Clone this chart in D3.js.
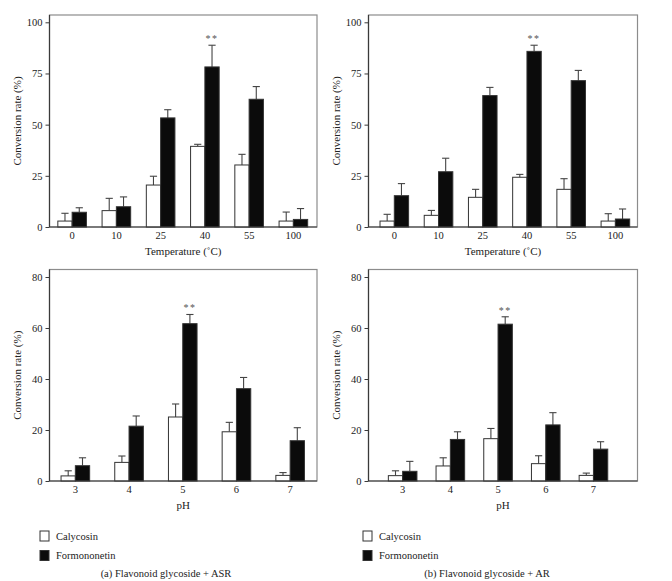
<!DOCTYPE html>
<html><head><meta charset="utf-8">
<script src="https://cdn.jsdelivr.net/npm/d3@7"></script>
<style>
html,body{margin:0;padding:0;background:#fff;}
svg{display:block;font-family:"Liberation Serif","Times New Roman",serif;}
</style></head>
<body>
<svg id="chart" width="672" height="581"></svg>
<script>
// ---------- data ----------
const tempCategories = ["0", "10", "25", "40", "55", "100"];
const phCategories = ["3", "4", "5", "6", "7"];
const seriesNames = ["Calycosin", "Formononetin"];
const tempTicks = [0, 25, 50, 75, 100];
const phTicks = [0, 20, 40, 60, 80];

// (a) Flavonoid glycoside + ASR, temperature
const asrTempCalycosin = [2.9, 8.0, 20.5, 39.4, 30.3, 2.9];
const asrTempCalycosinErr = [3.8, 6.0, 4.3, 1.0, 5.2, 4.4];
const asrTempFormononetin = [7.2, 9.9, 53.3, 78.2, 62.4, 3.7];
const asrTempFormononetinErr = [2.2, 4.8, 4.0, 10.6, 6.2, 5.3];
// (b) Flavonoid glycoside + AR, temperature
const arTempCalycosin = [2.9, 5.7, 14.5, 24.3, 18.4, 2.9];
const arTempCalycosinErr = [3.3, 2.4, 3.9, 1.4, 5.2, 3.6];
const arTempFormononetin = [15.3, 27.0, 64.2, 85.8, 71.5, 3.9];
const arTempFormononetinErr = [5.9, 6.6, 4.0, 3.0, 5.0, 4.9];
// (a) pH
const asrPhCalycosin = [2.0, 7.3, 25.1, 19.3, 2.2];
const asrPhCalycosinErr = [2.0, 2.5, 5.1, 3.7, 1.1];
const asrPhFormononetin = [6.0, 21.5, 61.7, 36.2, 15.8];
const asrPhFormononetinErr = [3.1, 4.0, 3.6, 4.4, 5.1];
// (b) pH
const arPhCalycosin = [2.1, 5.9, 16.6, 6.8, 2.2];
const arPhCalycosinErr = [1.9, 3.2, 4.0, 3.1, 0.9];
const arPhFormononetin = [3.8, 16.3, 61.5, 22.0, 12.5];
const arPhFormononetinErr = [3.9, 3.0, 2.9, 4.8, 2.9];

const tempSignificant = "40";
const phSignificant = "5";
const captions = ["(a)  Flavonoid glycoside + ASR", "(b)  Flavonoid glycoside + AR"];

// ---------- drawing ----------
const svg = d3.select("#chart");
const axisColor = "#3a3a3a";
const frameColor = "#8c8c8c";

function panel(cfg) {
  const g = svg.append("g");
  const x = d3.scaleBand().domain(cfg.categories).range(cfg.xRange).paddingInner(0).paddingOuter(0);
  const y = d3.scaleLinear().domain([0, cfg.yMax]).range([cfg.frame.y1, cfg.yTopPx]);
  const f = cfg.frame;
  g.append("rect").attr("x", f.x0).attr("y", f.y0).attr("width", f.x1 - f.x0).attr("height", f.y1 - f.y0)
    .attr("fill", "none").attr("stroke", frameColor).attr("stroke-width", 1.2);

  const barW = 14.3;
  const rows = cfg.categories.map((c, i) => ({c, i}));
  const series = [
    {vals: cfg.cal, errs: cfg.calErr, fill: "#ffffff", off: -barW},
    {vals: cfg.form, errs: cfg.formErr, fill: "#0b0b0b", off: 0}
  ];
  series.forEach(s => {
    const left = d => x(d.c) + x.bandwidth() / 2 + s.off;
    const mid = d => left(d) + barW / 2;
    g.selectAll(null).data(rows).join("line")
      .attr("x1", mid).attr("x2", mid)
      .attr("y1", d => y(s.vals[d.i])).attr("y2", d => y(s.vals[d.i] + s.errs[d.i]))
      .attr("stroke", "#444").attr("stroke-width", 1.1);
    g.selectAll(null).data(rows).join("line")
      .attr("x1", d => mid(d) - 3.6).attr("x2", d => mid(d) + 3.6)
      .attr("y1", d => y(s.vals[d.i] + s.errs[d.i])).attr("y2", d => y(s.vals[d.i] + s.errs[d.i]))
      .attr("stroke", "#444").attr("stroke-width", 1.1);
    g.selectAll(null).data(rows).join("rect")
      .attr("x", left).attr("width", barW)
      .attr("y", d => y(s.vals[d.i])).attr("height", d => y(0) - y(s.vals[d.i]))
      .attr("fill", s.fill).attr("stroke", "#333").attr("stroke-width", 1);
  });
  const si = cfg.categories.indexOf(cfg.sig);
  g.append("text")
    .attr("x", x(cfg.sig) + x.bandwidth() / 2 + barW / 2)
    .attr("y", y(cfg.form[si] + cfg.formErr[si]) - 3)
    .attr("text-anchor", "middle").attr("font-size", 10).attr("fill", "#555")
    .attr("letter-spacing", 1.5).text("**");

  const ya = d3.axisLeft(y).tickValues(cfg.ticks).tickSize(4).tickSizeOuter(0).tickPadding(3);
  const yg = g.append("g").attr("transform", `translate(${f.x0},0)`).call(ya);
  yg.select(".domain").attr("d", `M0,${f.y0}V${f.y1}`);
  const xa = d3.axisBottom(x).tickSize(0).tickSizeOuter(0).tickPadding(5);
  const xg = g.append("g").attr("transform", `translate(0,${f.y1})`).call(xa);
  xg.select(".domain").attr("d", `M${f.x0},0H${f.x1}`);
  [yg, xg].forEach(a => {
    a.selectAll(".domain").attr("stroke", axisColor).attr("stroke-width", 1.2);
    a.selectAll(".tick line").attr("stroke", axisColor);
    a.selectAll("text").attr("font-family", "Liberation Serif, Times New Roman, serif")
      .attr("font-size", 10.5).attr("fill", "#222");
  });
  g.append("text").attr("x", (f.x0 + f.x1) / 2).attr("y", f.y1 + 28)
    .attr("text-anchor", "middle").attr("font-size", 11).attr("fill", "#222").text(cfg.xTitle);
  g.append("text").attr("transform", `translate(${cfg.yTitleX},${(f.y0 + f.y1) / 2}) rotate(-90)`)
    .attr("text-anchor", "middle").attr("font-size", 11).attr("fill", "#222").text("Conversion rate (%)");
}

const topFrameY = {y0: 15, y1: 227};
const botFrameY = {y0: 269.5, y1: 481};
panel({categories: tempCategories, cal: asrTempCalycosin, calErr: asrTempCalycosinErr,
  form: asrTempFormononetin, formErr: asrTempFormononetinErr, yMax: 100, ticks: tempTicks,
  frame: {x0: 49.5, x1: 317, ...topFrameY}, yTopPx: 22.3, xRange: [50, 315.5],
  sig: tempSignificant, xTitle: "Temperature (˚C)", yTitleX: 21});
panel({categories: tempCategories, cal: arTempCalycosin, calErr: arTempCalycosinErr,
  form: arTempFormononetin, formErr: arTempFormononetinErr, yMax: 100, ticks: tempTicks,
  frame: {x0: 368.5, x1: 637.5, ...topFrameY}, yTopPx: 22.3, xRange: [372.2, 637.5],
  sig: tempSignificant, xTitle: "Temperature (˚C)", yTitleX: 340});
panel({categories: phCategories, cal: asrPhCalycosin, calErr: asrPhCalycosinErr,
  form: asrPhFormononetin, formErr: asrPhFormononetinErr, yMax: 80, ticks: phTicks,
  frame: {x0: 49.5, x1: 317, ...botFrameY}, yTopPx: 277, xRange: [48.5, 317],
  sig: phSignificant, xTitle: "pH", yTitleX: 21});
panel({categories: phCategories, cal: arPhCalycosin, calErr: arPhCalycosinErr,
  form: arPhFormononetin, formErr: arPhFormononetinErr, yMax: 80, ticks: phTicks,
  frame: {x0: 368.5, x1: 637.5, ...botFrameY}, yTopPx: 277, xRange: [378.8, 617.3],
  sig: phSignificant, xTitle: "pH", yTitleX: 340});

[{x: 40, cap: captions[0], cx: 166}, {x: 363, cap: captions[1], cx: 487}].forEach(l => {
  const lg = svg.append("g");
  seriesNames.forEach((n, i) => {
    const yy = 531 + i * 19.5;
    lg.append("rect").attr("x", l.x).attr("y", yy).attr("width", 9).attr("height", 10)
      .attr("fill", i === 0 ? "#fff" : "#0b0b0b").attr("stroke", "#333").attr("stroke-width", 1);
    lg.append("text").attr("x", l.x + 16).attr("y", yy + 8.5).attr("font-size", 10.5).attr("fill", "#222").text(n);
  });
  lg.append("text").attr("x", l.cx).attr("y", 577).attr("text-anchor", "middle")
    .attr("font-size", 10.5).attr("fill", "#222").text(l.cap);
});
</script>
</body></html>
